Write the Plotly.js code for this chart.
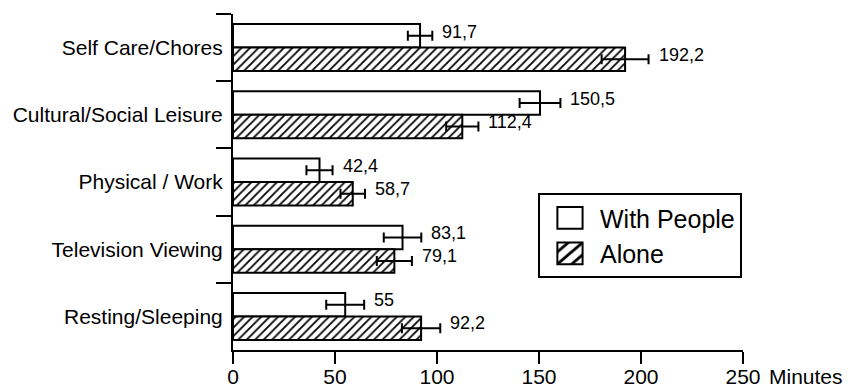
<!DOCTYPE html>
<html>
<head>
<meta charset="utf-8">
<script src="https://cdn.plot.ly/plotly-3.0.1.min.js"></script>
<style>html,body{margin:0;padding:0;background:#fff;}#chart{width:848px;height:388px;}</style>
</head>
<body>
<div id="chart"></div>
<script>
const categories = ['Self Care/Chores', 'Cultural/Social Leisure', 'Physical / Work', 'Television Viewing', 'Resting/Sleeping'];
const withPeople = [91.7, 150.5, 42.4, 83.1, 55];
const withPeopleErr = [6, 10, 6.4, 9.2, 9.3];
const alone = [192.2, 112.4, 58.7, 79.1, 92.2];
const aloneErr = [11.5, 7.9, 6, 8.6, 9.4];
const xTicks = [0, 50, 100, 150, 200, 250];
const seriesNames = ['With People', 'Alone'];
const unitLabel = 'Minutes';

const FONT = 'Liberation Sans, Arial, Helvetica, sans-serif';
const fmt = v => String(v).replace('.', ',');

const traces = [
  {
    type: 'bar', orientation: 'h', name: seriesNames[0],
    y: categories, x: withPeople,
    marker: {color: '#ffffff', line: {color: '#000', width: 2}},
    error_x: {type: 'data', array: withPeopleErr, visible: true, color: '#000', thickness: 2, width: 5},
    hoverinfo: 'none'
  },
  {
    type: 'bar', orientation: 'h', name: seriesNames[1],
    y: categories, x: alone,
    marker: {color: '#ffffff', line: {color: '#000', width: 2},
      pattern: {shape: '/', fgcolor: '#000', bgcolor: '#fff', size: 6, solidity: 0.3}},
    error_x: {type: 'data', array: aloneErr, visible: true, color: '#000', thickness: 2, width: 5},
    hoverinfo: 'none'
  }
];

const annotations = [];
categories.forEach((c, i) => {
  annotations.push({x: withPeople[i] + withPeopleErr[i], y: c, xref: 'x', yref: 'y',
    text: fmt(withPeople[i]), showarrow: false, xanchor: 'left', xshift: 8, yshift: 16,
    font: {family: FONT, size: 18, color: '#000'}});
  annotations.push({x: alone[i] + aloneErr[i], y: c, xref: 'x', yref: 'y',
    text: fmt(alone[i]), showarrow: false, xanchor: 'left', xshift: 8, yshift: -7,
    font: {family: FONT, size: 18, color: '#000'}});
});
annotations.push({x: 1, y: 0, xref: 'paper', yref: 'paper', text: unitLabel, showarrow: false,
  xanchor: 'left', yanchor: 'top', xshift: 24, yshift: -13,
  font: {family: FONT, size: 21, color: '#000'}});

const layout = {
  width: 848, height: 388,
  margin: {l: 233, r: 105, t: 14, b: 38},
  paper_bgcolor: '#fff', plot_bgcolor: '#fff',
  font: {family: FONT, color: '#000'},
  barmode: 'group', bargap: 0.3, bargroupgap: 0,
  showlegend: true,
  legend: {x: 0.598, y: 0.467, xanchor: 'left', yanchor: 'top',
    bordercolor: '#000', borderwidth: 2, bgcolor: '#fff',
    font: {family: FONT, size: 25, color: '#000'}, traceorder: 'normal', itemwidth: 50},
  xaxis: {range: [0, 250], tickvals: xTicks, ticktext: xTicks.map(String),
    showline: true, linecolor: '#000', linewidth: 2, ticks: 'outside', ticklen: 12, tickwidth: 2,
    tickcolor: '#000', showgrid: false, zeroline: false, ticklabelstandoff: -5,
    tickfont: {family: FONT, size: 21, color: '#000'}, fixedrange: true},
  yaxis: {autorange: 'reversed', type: 'category', showline: true, linecolor: '#000', linewidth: 2,
    ticks: 'outside', ticklen: 15, tickwidth: 2, tickcolor: '#000', tickson: 'boundaries',
    ticklabelstandoff: 4,
    showgrid: false, zeroline: false,
    tickfont: {family: FONT, size: 21, color: '#000'}, fixedrange: true},
  annotations: annotations
};

Plotly.newPlot('chart', traces, layout, {displayModeBar: false, staticPlot: true}).then(gd => {
  // enlarge legend swatches to match the reference's larger boxes
  gd.querySelectorAll('.legend .legendpoints path').forEach(p => {
    const t = p.getAttribute('transform') || '';
    p.setAttribute('transform', t + ' scale(2.1,1.8)');
    p.setAttribute('vector-effect', 'non-scaling-stroke');
  });
});
</script>
</body>
</html>
